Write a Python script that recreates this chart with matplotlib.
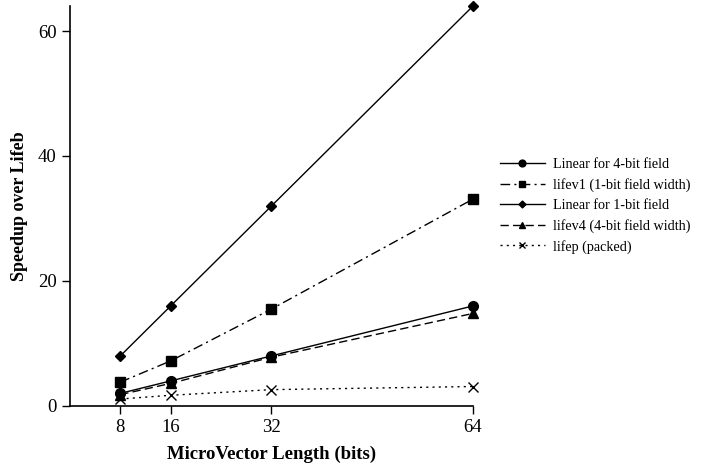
import matplotlib.pyplot as plt

# MicroVector lengths (bits)
lengths = [8, 16, 32, 64]

# speedups
linear4 = [2.0, 4.0, 8.0, 16.0]
lifev1 = [3.8, 7.2, 15.5, 33.1]
linear1 = [8.0, 16.0, 32.0, 64.0]
lifev4 = [1.8, 3.6, 7.8, 14.8]
lifep = [1.1, 1.7, 2.6, 3.1]

plt.rcParams['font.family'] = ['Liberation Serif', 'DejaVu Serif']

fig = plt.figure(figsize=(7.21, 4.66), dpi=100)
ax = fig.add_axes([0.097, 0.129, 0.559, 0.858])

k = dict(color='black', lw=1.0, clip_on=False)
ax.plot(lengths, linear4, '-', marker='o', ms=7, label='Linear for 4-bit field', **k)
ax.plot(lengths, lifev1, linestyle=(0, (7, 3, 1.5, 3)), marker='s', ms=7,
        label='lifev1 (1-bit field width)', **k)
ax.plot(lengths, linear1, '-', marker='D', ms=5, label='Linear for 1-bit field', **k)
ax.plot(lengths, lifev4, linestyle=(0, (6, 3)), marker='^', ms=7,
        label='lifev4 (4-bit field width)', **k)
ax.plot(lengths, lifep, linestyle=(0, (1.5, 3)), marker='x', ms=7,
        label='lifep (packed)', **k)

ax.set_xlim(0, 64)
ax.set_ylim(0, 64)
ax.set_xticks(lengths)
ax.set_yticks([0, 20, 40, 60])
ax.tick_params(labelsize=13.5, direction='out', length=6, width=1)
ax.spines['top'].set_visible(False)
ax.spines['right'].set_visible(False)
for s in ('left', 'bottom'):
    ax.spines[s].set_linewidth(1.2)

ax.set_xlabel('MicroVector Length (bits)', fontsize=13.5, fontweight='bold')
ax.xaxis.set_label_coords(0.5, -0.1)
ax.set_ylabel('Speedup over Lifeb', fontsize=13, fontweight='bold')
ax.yaxis.set_label_coords(-0.103, 0.5)

fig.legend(loc='center left', bbox_to_anchor=(0.693, 0.558), frameon=False,
           fontsize=10.2, handlelength=3.2, labelspacing=0.48, borderpad=0,
           borderaxespad=0, markerscale=0.7, handletextpad=0.6)

fig.savefig('out.png', dpi=100)
